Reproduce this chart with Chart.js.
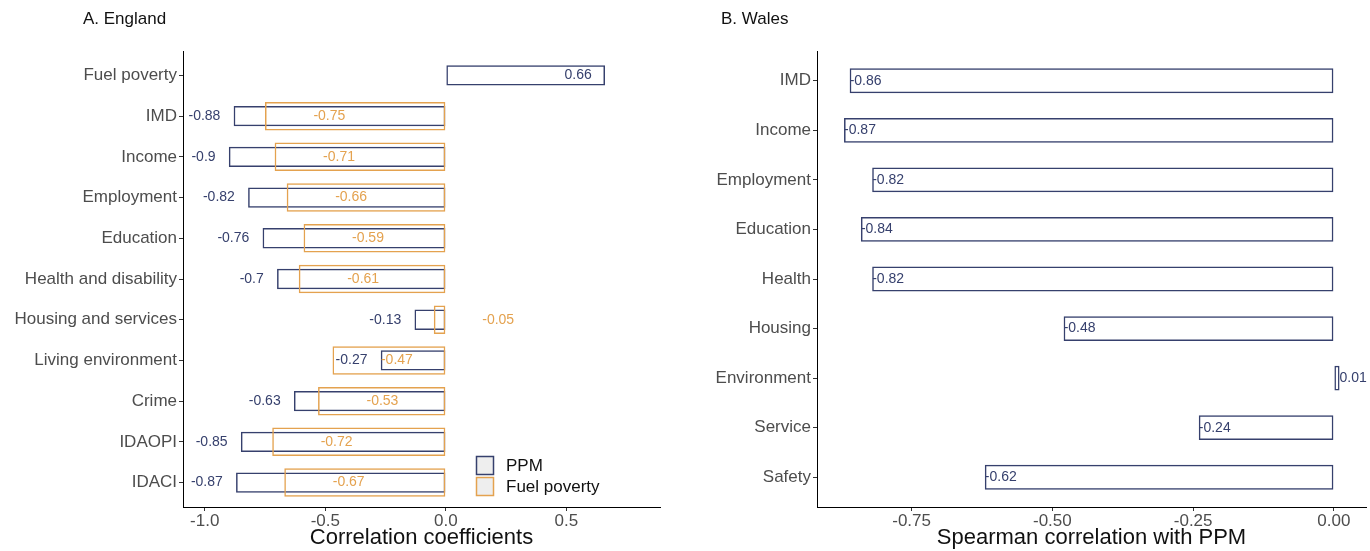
<!DOCTYPE html>
<html>
<head>
<meta charset="utf-8">
<script src="https://cdn.jsdelivr.net/npm/chart.js@4"></script>
<style>
  body { margin: 0; background: #fff; }
  .panel { position: absolute; top: 0; width: 685px; height: 551px; }
</style>
</head>
<body>
<div class="panel" style="left:0"><canvas id="england"></canvas></div>
<div class="panel" style="left:685px"><canvas id="wales"></canvas></div>
<script>
// England (panel A)
const englandCategories = ["Fuel poverty", "IMD", "Income", "Employment", "Education",
  "Health and disability", "Housing and services", "Living environment", "Crime", "IDAOPI", "IDACI"];
const englandPPM = [0.66, -0.88, -0.9, -0.82, -0.76, -0.7, -0.13, -0.27, -0.63, -0.85, -0.87];
const englandFuelPoverty = [null, -0.75, -0.71, -0.66, -0.59, -0.61, -0.05, -0.47, -0.53, -0.72, -0.67];
const englandTicks = [-1, -0.5, 0, 0.5];

// Wales (panel B)
const walesCategories = ["IMD", "Income", "Employment", "Education", "Health", "Housing",
  "Environment", "Service", "Safety"];
const walesPPM = [-0.86, -0.87, -0.82, -0.84, -0.82, -0.48, 0.01, -0.24, -0.62];
const walesTicks = [-0.75, -0.5, -0.25, 0];

const navy = "#36406d";
const orange = "#e4a24f";
const tickGrey = "#4d4d4d";

Chart.defaults.font.family = '"Liberation Sans", Arial, sans-serif';
Chart.defaults.animation = false;

// turn a value list into {x, y} points, y = category index
const toPoints = (values) => {
  let points = [];
  values.forEach((v, i) => {
    if (v !== null) points.push({ x: v, y: i });
  });
  return points;
};

// value labels next to / inside the bars
const barLabels = {
  id: "barLabels",
  afterDatasetsDraw(chart) {
    const ctx = chart.ctx;
    const xs = chart.scales.x;
    ctx.save();
    ctx.font = "14px " + Chart.defaults.font.family;
    ctx.textBaseline = "middle";
    chart.data.datasets.forEach((ds, di) => {
      const meta = chart.getDatasetMeta(di);
      meta.data.forEach((bar, i) => {
        const v = ds.data[i].x;
        ctx.fillStyle = ds.labelColor;
        ctx.textAlign = ds.labelAlign;
        ctx.fillText(String(v), xs.getPixelForValue(v + ds.labelOffset), bar.y);
      });
    });
    ctx.restore();
  }
};

// panel title + optional legend
const panelExtras = {
  id: "panelExtras",
  afterDraw(chart, args, opts) {
    const ctx = chart.ctx;
    ctx.save();
    ctx.font = "17px " + Chart.defaults.font.family;
    ctx.textBaseline = "middle";
    ctx.textAlign = "left";
    ctx.fillStyle = "#111";
    ctx.fillText(opts.title, opts.titleX, 19);
    if (opts.legend) {
      opts.legend.forEach((item, i) => {
        const y = 456 + i * 21;
        ctx.fillStyle = "#eeeeee";
        ctx.fillRect(476, y, 18, 19);
        ctx.strokeStyle = item.color;
        ctx.lineWidth = 1.5;
        ctx.strokeRect(476.5, y + 0.5, 17, 18);
        ctx.fillStyle = "#111";
        ctx.fillText(item.text, 506, y + 10);
      });
    }
    ctx.restore();
  }
};

const yScale = (categories, width) => ({
  type: "linear",
  reverse: true,
  offset: false,
  min: -0.6,
  max: categories.length - 0.4,
  afterBuildTicks: (axis) => { axis.ticks = categories.map((c, i) => ({ value: i })); },
  afterFit: (axis) => { axis.width = width; },
  ticks: { callback: (v) => categories[v], color: tickGrey, font: { size: 17 }, padding: 2, autoSkip: false },
  grid: { drawOnChartArea: false, offset: false, tickLength: 4, color: "#333" },
  border: { color: "#000", width: 1 }
});

const xScale = (min, max, ticks, digits, title) => ({
  type: "linear",
  min: min,
  max: max,
  afterBuildTicks: (axis) => { axis.ticks = ticks.map((v) => ({ value: v })); },
  afterFit: (axis) => { axis.height = 44; },
  ticks: { callback: (v) => v.toFixed(digits), color: tickGrey, font: { size: 17 }, padding: 0, maxRotation: 0, autoSkip: false },
  grid: { drawOnChartArea: false, tickLength: 4, color: "#333" },
  border: { color: "#000", width: 1 },
  title: { display: true, text: title, color: "#111", font: { size: 22 }, padding: { top: 0, bottom: 0 } }
});

const outlineBar = (label, values, color, thick, labelOffset, labelAlign, order) => ({
  label: label,
  data: toPoints(values),
  backgroundColor: "rgba(0,0,0,0)",
  borderColor: color,
  borderWidth: 1.5,
  borderSkipped: false,
  grouped: false,
  categoryPercentage: 1,
  barPercentage: thick,
  order: order,
  labelColor: color,
  labelOffset: labelOffset,
  labelAlign: labelAlign
});

new Chart(document.getElementById("england"), {
  type: "bar",
  data: {
    datasets: [
      outlineBar("PPM", englandPPM, navy, 0.5, -0.055, "right", 2),
      outlineBar("Fuel poverty", englandFuelPoverty, orange, 0.7, 0.267, "center", 1)
    ]
  },
  options: {
    indexAxis: "y",
    responsive: true,
    maintainAspectRatio: false,
    devicePixelRatio: 1,
    layout: { padding: { top: 51, right: 25, bottom: 0, left: 0 } },
    scales: {
      x: xScale(-1.09, 0.888, englandTicks, 1, "Correlation coefficients"),
      y: yScale(englandCategories, 183)
    },
    plugins: {
      legend: { display: false },
      tooltip: { enabled: false },
      panelExtras: {
        title: "A. England", titleX: 83,
        legend: [{ text: "PPM", color: navy }, { text: "Fuel poverty", color: orange }]
      }
    }
  },
  plugins: [barLabels, panelExtras]
});

new Chart(document.getElementById("wales"), {
  type: "bar",
  data: {
    datasets: [
      outlineBar("PPM", walesPPM, navy, 0.5, 0, "left", 1)
    ]
  },
  options: {
    indexAxis: "y",
    responsive: true,
    maintainAspectRatio: false,
    devicePixelRatio: 1,
    layout: { padding: { top: 51, right: 4, bottom: 0, left: 0 } },
    scales: {
      x: xScale(-0.918, 0.057, walesTicks, 2, "Spearman correlation with PPM"),
      y: yScale(walesCategories, 132)
    },
    plugins: {
      legend: { display: false },
      tooltip: { enabled: false },
      panelExtras: { title: "B. Wales", titleX: 36 }
    }
  },
  plugins: [barLabels, panelExtras]
});
</script>
</body>
</html>
